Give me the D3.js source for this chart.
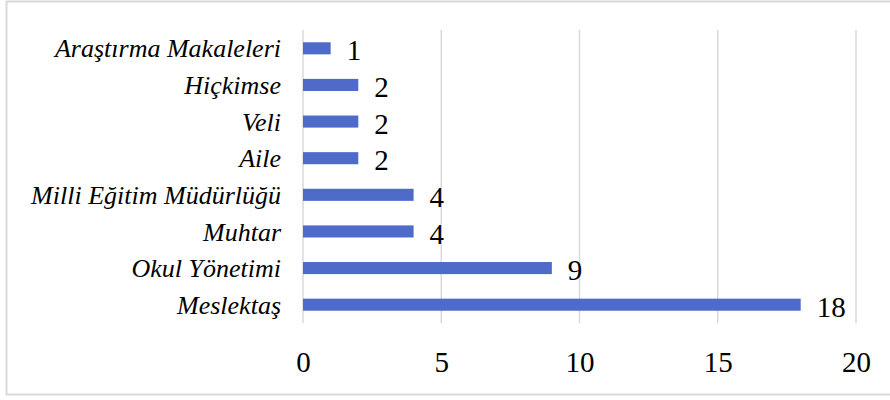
<!DOCTYPE html>
<html><head><meta charset="utf-8">
<script src="https://cdn.jsdelivr.net/npm/d3@7"></script>
<style>body{margin:0;background:#fff}svg{display:block}</style>
</head><body><svg id="c" width="890" height="400"></svg>
<script>
const categories = ["Araştırma Makaleleri","Hiçkimse","Veli","Aile","Milli Eğitim Müdürlüğü","Muhtar","Okul Yönetimi","Meslektaş"];
const values = [1,2,2,2,4,4,9,18];
const xTicks = [0,5,10,15,20];

const font = "Liberation Serif";
const svg = d3.select("#c");
svg.append("rect").attr("x",6.5).attr("y",1.5).attr("width",900).attr("height",393)
  .attr("fill","#fff").attr("stroke","#d9d9d9").attr("stroke-width",2);

const x = d3.scaleLinear().domain([0,20]).range([303,856]);
const y = d3.scaleBand().domain(categories).range([30,323]).paddingInner(0.67).paddingOuter(0.335);

svg.append("g").selectAll("line").data(xTicks).join("line")
  .attr("x1",d=>x(d)).attr("x2",d=>x(d)).attr("y1",30).attr("y2",323)
  .attr("stroke","#d9d9d9").attr("stroke-width",1.5);

const xa = svg.append("g").attr("transform","translate(0,351)")
  .call(d3.axisBottom(x).tickValues(xTicks).tickSize(0).tickPadding(0));
xa.attr("font-family",font).attr("font-size",29);
xa.select(".domain").remove();
xa.selectAll("text").attr("fill","#000").attr("dy","0.71em");

svg.append("g").attr("font-family",font).attr("font-style","italic").attr("font-size",26)
  .selectAll("text").data(categories).join("text")
  .attr("x",281).attr("y",d=>y(d)+y.bandwidth()/2).attr("dy","0.35em")
  .attr("text-anchor","end").attr("fill","#000").text(d=>d);

svg.append("g").selectAll("rect").data(categories).join("rect")
  .attr("x",x(0)).attr("y",d=>y(d)).attr("height",y.bandwidth())
  .attr("width",(d,i)=>x(values[i])-x(0)).attr("fill","#4f6bc9");

svg.append("g").attr("font-family",font).attr("font-size",29)
  .selectAll("text").data(categories).join("text")
  .attr("x",(d,i)=>x(values[i])+16).attr("y",d=>y(d)+y.bandwidth()/2+2).attr("dy","0.35em")
  .attr("fill","#000").text((d,i)=>values[i]);
</script></body></html>
